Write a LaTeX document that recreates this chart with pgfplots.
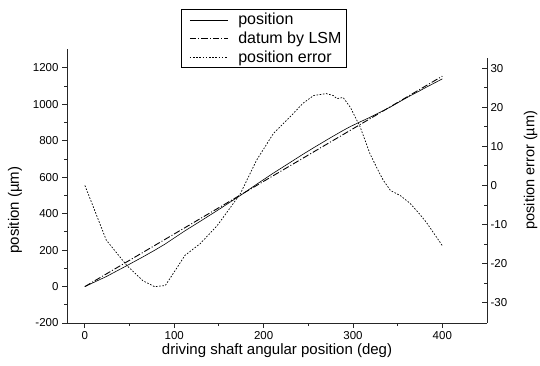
\documentclass[border=0pt]{standalone}
\usepackage{pgfplots}
\pgfplotsset{compat=1.18}
\usepackage{fontspec}
\setmainfont{Liberation Sans}
\pgfplotsset{
  errstyle/.style={black, line width=0.7pt, dash pattern=on 1.6pt off 1.6pt},
  lsmstyle/.style={black, line width=0.9pt, dash pattern=on 6.5pt off 2pt on 1pt off 2pt},
  posstyle/.style={black, line width=0.6pt},
}
\begin{document}
\begin{tikzpicture}[x=1pt,y=1pt]
\useasboundingbox (0,0) rectangle (540,365);
\begin{axis}[
  at={(67pt,42pt)}, anchor=south west,
  scale only axis, width=420pt, height=274pt,
  xmin=-20, xmax=450, ymin=-200, ymax=1304,
  axis x line*=bottom, axis y line*=left,
  axis line style={-, line width=1pt, black!85},
  xtick={0,100,...,400}, minor x tick num=1,
  ytick={-200,0,...,1200}, minor y tick num=1,
  tick align=outside, major tick length=5pt, minor tick length=3pt,
  every tick/.style={line width=0.9pt, black!85},
  /pgf/number format/assume math mode=true,
  /pgf/number format/1000 sep={},
  ticklabel style={font=\fontsize{11.5}{12}\selectfont},
  xlabel={driving shaft angular position (deg)},
  xlabel style={font=\fontsize{15}{16}\selectfont, at={(axis description cs:0.5,-0.102)}, anchor=center},
  ylabel={position (µm)},
  ylabel style={font=\fontsize{15}{16}\selectfont, at={(axis description cs:-0.1238,0.412)}, anchor=center},
  legend cell align=left,
  legend style={at={(rel axis cs:0.2714,1.146)}, anchor=north west, draw=black, line width=0.8pt,
    font=\fontsize{16}{16}\selectfont, inner xsep=3pt, inner ysep=2pt, row sep=1.6pt},
  legend image code/.code={\draw[#1] (0pt,0pt) -- (38pt,0pt); \path (-5pt,0pt) (46pt,0pt);},
]
\addplot[posstyle] table {
0 0
24 55
47 115
65 163
78 199
90 234
101 270
112 306
129 358
148 417
163 465
174 500
192 561
211 623
229 679
244 726
256 762
270 803
278 826
289 857
297 878
308 904
319 929
330 956
342 986
353 1017
364 1047
373 1070
382 1094
400 1140
};
\addlegendentry{position}
\addplot[lsmstyle] table {
0 0
400 1155
};
\addlegendentry{datum by LSM}
\addlegendimage{errstyle}
\addlegendentry{position error}
\end{axis}
\begin{axis}[
  at={(67pt,42pt)}, anchor=south west,
  scale only axis, width=420pt, height=265pt,
  xmin=-20, xmax=450, ymin=-35.2, ymax=32.6,
  hide x axis, axis y line*=right,
  axis line style={-, line width=1pt, black!85},
  ytick={-30,-20,...,30}, minor y tick num=1,
  tick align=inside, major tick length=5pt, minor tick length=3pt,
  every tick/.style={line width=0.9pt, black!85},
  /pgf/number format/assume math mode=true,
  ticklabel style={font=\fontsize{11.5}{12}\selectfont},
  ylabel={position error (µm)},
  ylabel style={font=\fontsize{14.5}{15}\selectfont, at={(axis description cs:1.1036,0.577)}, anchor=center},
]
\addplot[errstyle] table {
0 0
24 -14
47 -20.5
65 -24.4
78 -25.9
90 -25.6
101 -21.8
112 -17.9
129 -14.9
148 -10.3
163 -5.6
174 -2.1
192 6.4
211 13.3
229 17.4
244 21
256 23
270 23.5
278 23
282 22.2
289 22.5
297 20
308 15
319 8.1
330 3
334 1.3
342 -1.3
353 -2.6
364 -4.6
373 -6.9
382 -9.4
400 -15.4
};
\end{axis}
\end{tikzpicture}
\end{document}
